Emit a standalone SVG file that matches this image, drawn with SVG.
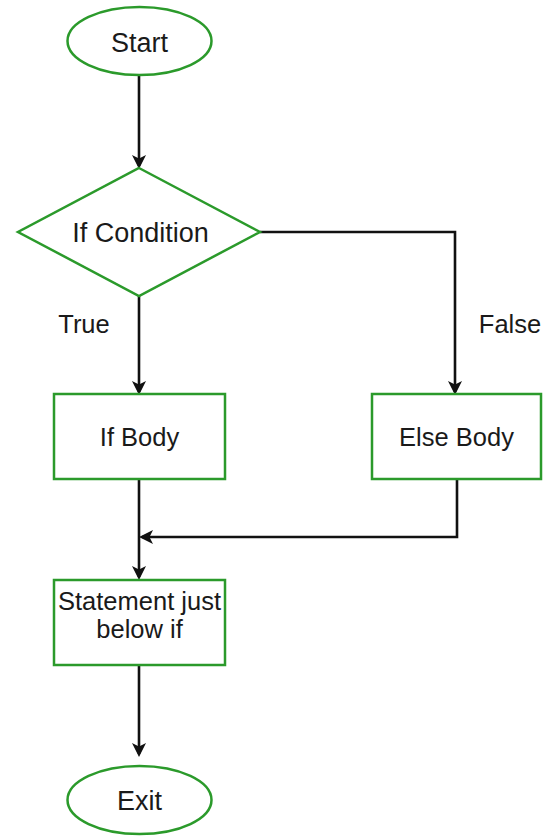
<svg xmlns="http://www.w3.org/2000/svg" width="543" height="836" viewBox="0 0 543 836">
<style>
.node{fill:#ffffff;stroke:#2b9a2b;stroke-width:2.5}
.edge{fill:none;stroke:#111111;stroke-width:2.6}
text{font-family:"Liberation Sans",Arial,sans-serif;font-size:25.5px;fill:#1a1a1a;text-anchor:middle}
.big{font-size:27px}
</style>
<defs>
<marker id="arr" markerWidth="14" markerHeight="14" refX="11" refY="7" orient="auto" markerUnits="userSpaceOnUse">
<path d="M0,0 L14,7 L0,14 L3.5,7 Z" fill="#111111"/>
</marker>
</defs>
<rect width="543" height="836" fill="#ffffff"/>
<g id="connectors">
<path class="edge" d="M139,76 V166" marker-end="url(#arr)"/>
<path class="edge" d="M260,232 H455 V392" marker-end="url(#arr)"/>
<path class="edge" d="M139,296 V392" marker-end="url(#arr)"/>
<path class="edge" d="M139,479 V577" marker-end="url(#arr)"/>
<path class="edge" d="M457,479 V537 H142" marker-end="url(#arr)"/>
<path class="edge" d="M139,665 V754" marker-end="url(#arr)"/>
<text x="84" y="333">True</text>
<text x="510" y="333">False</text>
</g>
<g id="start">
<ellipse class="node" cx="139.5" cy="41" rx="72" ry="34"/>
<text class="big" x="139.5" y="52">Start</text>
</g>
<g id="condition">
<polygon class="node" points="139,168 260,232 139,296 18,232"/>
<text class="big" x="140.5" y="242">If Condition</text>
</g>
<g id="ifbody">
<rect class="node" x="54" y="394" width="171" height="85"/>
<text x="139.5" y="446">If Body</text>
</g>
<g id="elsebody">
<rect class="node" x="372" y="394" width="169" height="85"/>
<text x="456.5" y="446">Else Body</text>
</g>
<g id="statement">
<rect class="node" x="54" y="580" width="171" height="85"/>
<text x="139.5" y="610">Statement just</text>
<text x="139.5" y="638">below if</text>
</g>
<g id="exit">
<ellipse class="node" cx="139.5" cy="800" rx="72" ry="34"/>
<text class="big" x="139.5" y="810">Exit</text>
</g>
</svg>
